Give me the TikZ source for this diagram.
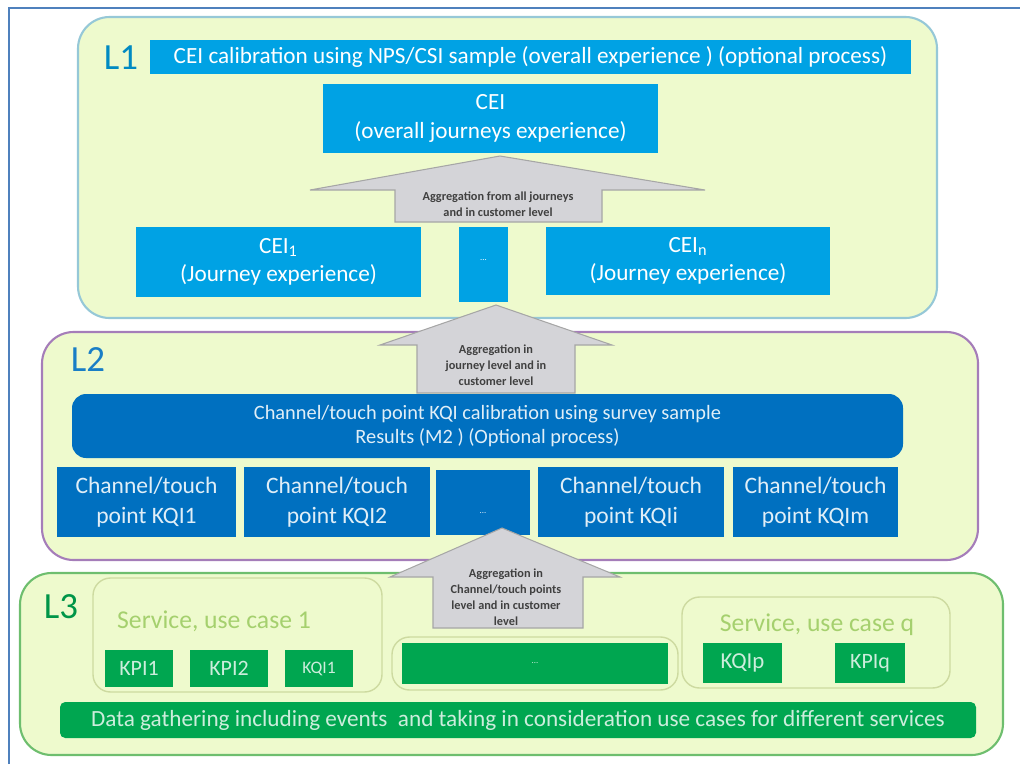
\documentclass[tikz,border=0pt]{standalone}
\usepackage{fontspec}
\setmainfont{Carlito}
\usetikzlibrary{positioning}

\definecolor{framebl}{RGB}{79,129,189}
\definecolor{panelfill}{RGB}{238,250,205}
\definecolor{lonebd}{RGB}{150,200,215}
\definecolor{ltwobd}{RGB}{165,125,185}
\definecolor{lthreebd}{RGB}{110,190,110}
\definecolor{ceiblue}{RGB}{0,162,228}
\definecolor{kqiblue}{RGB}{0,112,192}
\definecolor{kpigreen}{RGB}{0,166,80}
\definecolor{servtxt}{RGB}{165,208,110}
\definecolor{servbd}{RGB}{205,218,160}
\definecolor{arrowgray}{RGB}{212,212,216}

% box from corner (x1,y1) to corner (x2,y2), in picture units
\newcommand{\blk}[7][]{%
    \node[#1, minimum width={(#5-#3)*0.02cm}, minimum height={(#6-#4)*0.02cm}] (#2) at ({(#3+#5)/2},{(#4+#6)/2}) {#7};}

\tikzset{
    panel/.style={fill=panelfill, line width=1.2pt, rounded corners=18pt, inner sep=0pt},
    lvl/.style={font=\fontsize{21}{21}\selectfont},
    ceibox/.style={fill=ceiblue, text=white, inner sep=0pt, align=center, font=\fontsize{13.2}{16}\selectfont},
    kqibox/.style={fill=kqiblue, text=white!88!kqiblue, inner sep=0pt, align=center, font=\fontsize{13.4}{17}\selectfont},
    kpibox/.style={fill=kpigreen, text=white!80!kpigreen, inner sep=0pt, align=center, font=\fontsize{12.5}{14}\selectfont},
    servgrp/.style={draw=servbd, line width=0.8pt, rounded corners=10pt, inner sep=0pt},
    servlbl/.style={text=servtxt, font=\fontsize{14.6}{15}\selectfont},
    aggarr/.style={fill=arrowgray, draw=gray!70, line width=0.6pt, line join=miter},
    aggtxt/.style={text=black!75, align=center, font=\fontsize{7}{9}\selectfont\bfseries}
}

\begin{document}
\begin{tikzpicture}[x=0.02cm, y=-0.02cm]
    \useasboundingbox (0,0) rectangle (1020,764);
    \draw[framebl, line width=1.5pt] (9,764) -- (9,8) -- (1020,8);

    % L1
    \blk[panel, draw=lonebd]{L1}{78}{17}{937}{318}{}
    \node[lvl, text=ceiblue!85!black] (l1lbl) at (121,58) {L1};
    \blk[ceibox]{calib}{150}{40}{911}{74}{CEI calibration using NPS/CSI sample (overall experience ) (optional process)}
    \blk[ceibox]{cei}{323}{84}{658}{153}{CEI\\(overall journeys experience)}
    \blk[ceibox]{cei1}{136}{227}{421}{297}{CEI\textsubscript{1}\\(Journey experience)}
    \blk[ceibox, font=\tiny]{ceidots}{459}{227}{508}{302}{\raisebox{5pt}{...}}
    \blk[ceibox]{ceinn}{546}{227}{830}{295}{CEI\textsubscript{n}\\(Journey experience)}
    \draw[aggarr] (500,156) -- (705,190) -- (602,190) -- (602,222) -- (395,222) -- (395,190) -- (310,190) -- cycle;
    \node[aggtxt] (agg1) at (498,204) {Aggregation from all journeys\\and in customer level};

    % L2
    \blk[panel, draw=ltwobd]{L2}{42}{332}{978}{560}{}
    \node[lvl, text=kqiblue!90!white] (l2lbl) at (88,360) {L2};
    \draw[aggarr] (496,305) -- (612,345) -- (575,345) -- (575,393) -- (417,393) -- (417,345) -- (380,345) -- cycle;
    \node[aggtxt] (agg2) at (496,365) {Aggregation in\\journey level and in\\customer level};
    \blk[kqibox, rounded corners=8pt, font=\fontsize{11.6}{13.5}\selectfont]{kqical}{72}{394}{903}{458}{\raisebox{-2pt}{Channel/touch point KQI calibration using survey sample}\\\raisebox{-2pt}{Results (M2 ) (Optional process)}}
    \foreach \nm/\xa/\xb/\txt in {kqi1/57/236/point KQI1, kqi2/244/430/point KQI2, kqii/538/724/point KQIi, kqim/733/898/point KQIm} {
        \blk[kqibox]{\nm}{\xa}{467}{\xb}{537}{Channel/touch\\\txt}
    }
    \blk[kqibox, font=\tiny]{kqidots}{436}{470}{530}{535}{\raisebox{-12pt}{...}}

    % L3
    \blk[panel, draw=lthreebd]{L3}{20}{573}{1003}{755}{}
    \node[lvl, text=kpigreen!90!black] (l3lbl) at (61,607) {L3};
    \draw[aggarr] (502,528) -- (620,577) -- (583,577) -- (583,628) -- (433,628) -- (433,577) -- (390,577) -- cycle;
    \node[aggtxt] (agg3) at (506,597) {Aggregation in\\Channel/touch points\\level and in customer\\level};
    \blk[servgrp]{serv1}{93}{578}{382}{692}{}
    \node[servlbl] (serv1lbl) at (214,621) {Service, use case 1};
    \blk[kpibox]{kpi1}{105}{650}{173}{687}{KPI1}
    \blk[kpibox]{kpi2}{190}{650}{268}{687}{KPI2}
    \blk[kpibox, font=\fontsize{10}{10}\selectfont]{kqione}{285}{650}{353}{687}{KQI1}
    \blk[servgrp]{servmid}{392}{637}{678}{690}{}
    \blk[kpibox, font=\tiny]{kpidots}{402}{643}{668}{684}{...}
    \blk[servgrp]{servq}{682}{597}{950}{688}{}
    \node[servlbl] (servqlbl) at (817,625) {Service, use case q};
    \blk[kpibox, font=\fontsize{13}{14}\selectfont]{kqip}{703}{643}{782}{683}{KQIp}
    \blk[kpibox]{kpiq}{835}{643}{905}{683}{KPIq}
    \blk[kpibox, rounded corners=3pt, font=\fontsize{13.2}{14}\selectfont]{datag}{60}{702}{976}{738}{Data gathering including events\ \ and taking in consideration use cases for different services}
\end{tikzpicture}
\end{document}
